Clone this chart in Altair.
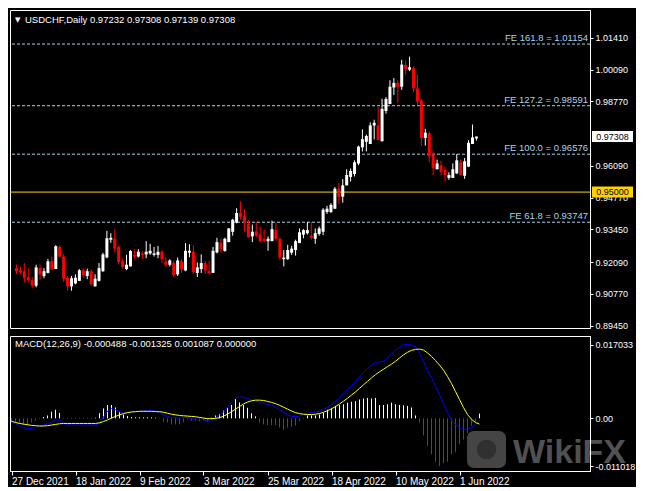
import altair as alt
import pandas as pd

# ---------------- data ----------------
symbol = "USDCHF"
timeframe = "Daily"

opens = [0.9184, 0.9175, 0.9171, 0.9147, 0.9135, 0.9111, 0.9184, 0.9151, 0.9164, 0.9212,
         0.9180, 0.9272, 0.9232, 0.9144, 0.9108, 0.9120, 0.9131, 0.9175, 0.9151, 0.9171,
         0.9108, 0.9131, 0.9171, 0.9228, 0.9302, 0.9306, 0.9272, 0.9214, 0.9180, 0.9191,
         0.9239, 0.9232, 0.9245, 0.9241, 0.9245, 0.9239, 0.9239, 0.9252, 0.9212, 0.9198,
         0.9205, 0.9158, 0.9212, 0.9174, 0.9248, 0.9252, 0.9164, 0.9180, 0.9205, 0.9171,
         0.9164, 0.9249, 0.9289, 0.9255, 0.9292, 0.9335, 0.9373, 0.9413, 0.9400, 0.9369,
         0.9316, 0.9336, 0.9324, 0.9306, 0.9296, 0.9296, 0.9342, 0.9306, 0.9221, 0.9221,
         0.9248, 0.9259, 0.9288, 0.9323, 0.9329, 0.9319, 0.9306, 0.9326, 0.9335, 0.9417,
         0.9417, 0.9431, 0.9514, 0.9481, 0.9528, 0.9563, 0.9575, 0.9619, 0.9686, 0.9709,
         0.9700, 0.9777, 0.9777, 0.9712, 0.9837, 0.9866, 0.9935, 0.9954, 0.9938, 1.0028,
         1.0009, 1.0015, 0.9931, 0.9881, 0.9725, 0.9745, 0.9656, 0.9595, 0.9611, 0.9592,
         0.9559, 0.9559, 0.9578, 0.9624, 0.9568, 0.9606, 0.9700, 0.97232]
highs = [0.9199, 0.9191, 0.9205, 0.9184, 0.9147, 0.9198, 0.9198, 0.9184, 0.9222, 0.9232,
         0.9279, 0.9279, 0.9243, 0.9151, 0.9151, 0.9158, 0.9180, 0.9184, 0.9182, 0.9178,
         0.9158, 0.9205, 0.9248, 0.9339, 0.9329, 0.9346, 0.9279, 0.9225, 0.9239, 0.9259,
         0.9263, 0.9263, 0.9255, 0.9296, 0.9285, 0.9272, 0.9276, 0.9259, 0.9232, 0.9221,
         0.9214, 0.9228, 0.9221, 0.9288, 0.9283, 0.9279, 0.9208, 0.9241, 0.9214, 0.9214,
         0.9272, 0.9310, 0.9306, 0.9310, 0.9350, 0.9389, 0.9433, 0.9461, 0.9429, 0.9384,
         0.9365, 0.9376, 0.9357, 0.9344, 0.9316, 0.9381, 0.9373, 0.9312, 0.9259, 0.9281,
         0.9276, 0.9302, 0.9349, 0.9346, 0.9376, 0.9376, 0.9349, 0.9357, 0.9433, 0.9443,
         0.9454, 0.9521, 0.9538, 0.9554, 0.9595, 0.9598, 0.9632, 0.9693, 0.9761, 0.9739,
         0.9790, 0.9801, 0.9853, 0.9888, 0.9895, 0.9965, 0.9974, 0.9965, 1.0050, 1.0046,
         1.0063, 1.0023, 0.9988, 0.9888, 0.9763, 0.9752, 0.9672, 0.9635, 0.9631, 0.9606,
         0.9582, 0.9619, 0.9658, 0.9635, 0.9642, 0.9716, 0.9781, 0.97308]
lows = [0.9159, 0.9158, 0.9124, 0.9124, 0.9100, 0.9104, 0.9135, 0.9142, 0.9162, 0.9178,
        0.9180, 0.9229, 0.9127, 0.9090, 0.9090, 0.9117, 0.9130, 0.9144, 0.9138, 0.9111,
        0.9108, 0.9128, 0.9168, 0.9225, 0.9289, 0.9249, 0.9201, 0.9182, 0.9175, 0.9191,
        0.9222, 0.9228, 0.9222, 0.9225, 0.9239, 0.9232, 0.9225, 0.9205, 0.9187, 0.9191,
        0.9147, 0.9151, 0.9164, 0.9171, 0.9229, 0.9160, 0.9147, 0.9164, 0.9160, 0.9158,
        0.9164, 0.9245, 0.9249, 0.9252, 0.9292, 0.9319, 0.9370, 0.9386, 0.9335, 0.9312,
        0.9292, 0.9312, 0.9292, 0.9292, 0.9256, 0.9296, 0.9296, 0.9216, 0.9191, 0.9218,
        0.9239, 0.9236, 0.9288, 0.9308, 0.9323, 0.9302, 0.9285, 0.9319, 0.9321, 0.9409,
        0.9413, 0.9429, 0.9451, 0.9456, 0.9528, 0.9544, 0.9565, 0.9612, 0.9669, 0.9669,
        0.9700, 0.9719, 0.9716, 0.9709, 0.9826, 0.9866, 0.9904, 0.9871, 0.9925, 0.9988,
        1.0003, 0.9915, 0.9860, 0.9692, 0.9693, 0.9624, 0.9571, 0.9595, 0.9571, 0.9544,
        0.9551, 0.9559, 0.9575, 0.9571, 0.9555, 0.9604, 0.9700, 0.97139]
closes = [0.9171, 0.9167, 0.9144, 0.9134, 0.9111, 0.9187, 0.9158, 0.9171, 0.9212, 0.9180,
          0.9275, 0.9232, 0.9140, 0.9108, 0.9142, 0.9144, 0.9175, 0.9155, 0.9171, 0.9117,
          0.9140, 0.9184, 0.9241, 0.9308, 0.9310, 0.9265, 0.9209, 0.9188, 0.9198, 0.9255,
          0.9232, 0.9252, 0.9239, 0.9252, 0.9256, 0.9245, 0.9252, 0.9222, 0.9198, 0.9216,
          0.9155, 0.9216, 0.9180, 0.9256, 0.9256, 0.9167, 0.9187, 0.9205, 0.9174, 0.9162,
          0.9256, 0.9292, 0.9263, 0.9306, 0.9349, 0.9385, 0.9413, 0.9397, 0.9370, 0.9312,
          0.9335, 0.9319, 0.9296, 0.9296, 0.9306, 0.9346, 0.9306, 0.9228, 0.9228, 0.9259,
          0.9265, 0.9296, 0.9333, 0.9342, 0.9342, 0.9310, 0.9329, 0.9349, 0.9427, 0.9431,
          0.9447, 0.9514, 0.9480, 0.9528, 0.9571, 0.9588, 0.9624, 0.9689, 0.9720, 0.9733,
          0.9777, 0.9788, 0.9716, 0.9846, 0.9887, 0.9938, 0.9954, 0.9938, 1.0030, 1.0012,
          1.0019, 0.9931, 0.9877, 0.9725, 0.9747, 0.9649, 0.9599, 0.9619, 0.9584, 0.9571,
          0.9571, 0.9595, 0.9632, 0.9571, 0.9628, 0.9705, 0.9727, 0.97308]

macd_main = [-0.000957, -0.001252, -0.001693, -0.002135, -0.002430, -0.002356, -0.002135, -0.001841, -0.001546, -0.001252,
             -0.000884, -0.000295, -0.000442, -0.001104, -0.001473, -0.001546, -0.001546, -0.001546, -0.001546, -0.001546,
             -0.001546, -0.001546, -0.001104, 0.000295, 0.001693, 0.002283, 0.001988, 0.001473, 0.001178, 0.001252,
             0.001399, 0.001546, 0.001620, 0.001693, 0.001841, 0.001841, 0.001693, 0.001399, 0.000810, 0.000442,
             0.000221, 0.000147, 0.000074, 0.000221, 0.000147, -0.000074, -0.000147, -0.000221, -0.000368, -0.000589,
             -0.000295, 0.000221, 0.000810, 0.001399, 0.002503, 0.003608, 0.004639, 0.004933, 0.004860, 0.004565,
             0.004271, 0.003976, 0.003755, 0.003387, 0.003240, 0.003019, 0.002577, 0.001988, 0.001399, 0.000810,
             0.000442, 0.000368, 0.000589, 0.000884, 0.001178, 0.001325, 0.001473, 0.001693, 0.002135, 0.002577,
             0.003166, 0.003976, 0.004712, 0.005817, 0.006700, 0.007584, 0.008467, 0.009498, 0.010603, 0.011486,
             0.012296, 0.012885, 0.013033, 0.013180, 0.013916, 0.014873, 0.015757, 0.016419, 0.017009, 0.017033,
             0.016960, 0.016493, 0.015021, 0.013180, 0.010971, 0.009277, 0.007437, 0.005449, 0.003387, 0.001399,
             -0.000515, -0.001399, -0.002062, -0.002503, -0.002577, -0.002135, -0.001399, -0.000488]
macd_signal = [-0.000663, -0.000957, -0.001178, -0.001325, -0.001473, -0.001620, -0.001693, -0.001767, -0.001767, -0.001693,
               -0.001546, -0.001399, -0.001252, -0.001178, -0.001178, -0.001178, -0.001178, -0.001178, -0.001178, -0.001178,
               -0.001178, -0.001178, -0.001031, -0.000736, -0.000368, 0.000074, 0.000442, 0.000810, 0.001104, 0.001325,
               0.001473, 0.001546, 0.001620, 0.001620, 0.001620, 0.001620, 0.001546, 0.001546, 0.001399, 0.001178,
               0.000957, 0.000810, 0.000663, 0.000589, 0.000515, 0.000442, 0.000368, 0.000221, 0.000074, -0.000074,
               -0.000074, 0.000000, 0.000147, 0.000515, 0.000957, 0.001546, 0.002135, 0.002724, 0.003313, 0.003755,
               0.004050, 0.004197, 0.004197, 0.004123, 0.003902, 0.003682, 0.003387, 0.003019, 0.002577, 0.002135,
               0.001693, 0.001325, 0.001104, 0.000957, 0.000884, 0.000884, 0.000957, 0.001104, 0.001399, 0.001767,
               0.002209, 0.002724, 0.003313, 0.003976, 0.004639, 0.005375, 0.006111, 0.006921, 0.007731, 0.008541,
               0.009351, 0.010087, 0.010750, 0.011339, 0.011928, 0.012517, 0.013180, 0.013916, 0.014652, 0.015241,
               0.015683, 0.015904, 0.015977, 0.015757, 0.015094, 0.014284, 0.013327, 0.012296, 0.011118, 0.009646,
               0.008026, 0.006185, 0.004344, 0.002503, 0.000884, -0.000221, -0.000957, -0.001325]
macd_hist = [-0.000957, -0.000957, -0.001178, -0.001546, -0.001546, -0.000957, -0.000515, -0.000147, 0.000295, 0.000663,
             0.001546, 0.001988, 0.001252, -0.000147, -0.000147, -0.000147, -0.000147, -0.000147, -0.000147, -0.000147,
             -0.000147, 0.000147, 0.001178, 0.002283, 0.003093, 0.003093, 0.002503, 0.001546, 0.000884, 0.000515,
             0.000295, 0.000221, 0.000221, 0.000221, 0.000221, 0.000221, 0.000147, -0.000074, -0.000810, -0.000957,
             -0.001399, -0.001399, -0.001399, -0.000884, -0.000221, -0.000515, -0.000515, -0.000663, -0.000515, -0.000736,
             0.000147, 0.000663, 0.001031, 0.001767, 0.002503, 0.003093, 0.004418, 0.003682, 0.003093, 0.002430,
             0.001178, 0.000442, -0.000957, -0.001399, -0.001546, -0.001546, -0.001546, -0.002135, -0.002651, -0.002135,
             -0.001914, -0.001693, -0.000663, -0.000147, 0.000663, 0.000663, 0.000663, 0.000884, 0.001252, 0.001988,
             0.002283, 0.002872, 0.003093, 0.003240, 0.003608, 0.003829, 0.003976, 0.004344, 0.004565, 0.004712,
             0.004565, 0.004712, 0.003093, 0.003093, 0.003240, 0.003608, 0.003240, 0.003093, 0.003019, 0.002872,
             0.002503, 0.000663, -0.000957, -0.003902, -0.006332, -0.008320, -0.010014, -0.011018, -0.010382, -0.010014,
             -0.008320, -0.007805, -0.005964, -0.004860, -0.003387, -0.001693, -0.000810, 0.001087]
macd_hist_down_last = 0.0

tick_pos = [0, 16, 32, 48, 64, 80, 96, 112]
tick_labels = ["27 Dec 2021", "18 Jan 2022", "9 Feb 2022", "3 Mar 2022",
               "25 Mar 2022", "18 Apr 2022", "10 May 2022", "1 Jun 2022"]

price_ticks = [0.89450, 0.90770, 0.92090, 0.93450, 0.94770, 0.96090,
               0.98770, 1.00090, 1.01410]
macd_ticks = [0.017033, 0.0, -0.011018]
macd_tick_labels = ["0.017033", "0.00", "-0.011018"]

fe_levels = [1.01154, 0.98591, 0.96576, 0.93747]
fe_labels = ["FE 161.8 = 1.01154", "FE 127.2 = 0.98591",
             "FE 100.0 = 0.96576", "FE 61.8 = 0.93747"]
support_level = 0.95000
last_price = closes[-1]

# ---------------- styling ----------------
W = 580
H_PRICE = 318
H_MACD = 135
BAR_PX = 4
FONT = "Liberation Sans"
GOLD = "#FFD200"
FE_COLOR = "#A9D3EA"

n = len(closes)
bar_index = list(range(n))

candles = pd.DataFrame({"i": bar_index, "open": opens, "high": highs,
                        "low": lows, "close": closes})
candles["dir"] = ["up" if c >= o else "down" for o, c in zip(opens, closes)]

x0 = -0.375
x_scale = alt.Scale(domain=[x0, x0 + W / BAR_PX], nice=False, zero=False)
p_scale = alt.Scale(domain=[0.8935, 1.0257], nice=False, zero=False)
m_scale = alt.Scale(domain=[-0.01215, 0.0190], nice=False, zero=False)
dir_color = alt.Color("dir:N", scale=alt.Scale(domain=["up", "down"],
                                               range=["#FFFFFF", "#FF0000"]), legend=None)

p_axis = alt.Axis(orient="right", values=price_ticks, format=".5f", title=None, grid=False,
                  labelColor="white", labelFont=FONT, labelFontSize=9, tickColor="white",
                  tickSize=3, labelPadding=2, domainColor="white", labelOverlap=False,
                  labelFlush=False)

m_label_expr = "".join(
    f"abs(datum.value - ({v})) < 0.0000001 ? '{l}' : " for v, l in zip(macd_ticks, macd_tick_labels)
) + "''"
m_axis = alt.Axis(orient="right", values=macd_ticks, labelExpr=m_label_expr, title=None,
                  grid=False, labelColor="white", labelFont=FONT, labelFontSize=9,
                  tickColor="white", tickSize=3, labelPadding=2, domainColor="white",
                  labelOverlap=False, labelFlush=False, zindex=1)

x_label_expr = "".join(
    f"datum.value == {p} ? '{l}' : " for p, l in zip(tick_pos, tick_labels)
) + "''"
x_axis = alt.Axis(values=tick_pos, labelExpr=x_label_expr, title=None, grid=False,
                  labelColor="white", labelFont=FONT, labelFontSize=10, labelAlign="left",
                  labelBaseline="top", labelPadding=1, tickSize=4, tickColor="white",
                  domainColor="white", labelFlush=False, labelOverlap=False, zindex=1)

# ---------------- price panel ----------------
fe_df = pd.DataFrame({"level": fe_levels, "label": fe_labels})
fe_lines = alt.Chart(fe_df).mark_rule(color=FE_COLOR, strokeDash=[3, 2], strokeWidth=1).encode(
    y=alt.Y("level:Q", scale=p_scale, axis=p_axis))
fe_text = alt.Chart(fe_df).mark_text(align="right", baseline="alphabetic", dy=-3,
                                     color=FE_COLOR, font=FONT, fontSize=9.5).encode(
    y=alt.Y("level:Q", scale=p_scale, axis=p_axis), x=alt.value(W - 2), text="label:N")

gold_line = alt.Chart(pd.DataFrame({"level": [support_level]})).mark_rule(
    color=GOLD, strokeWidth=1).encode(y=alt.Y("level:Q", scale=p_scale, axis=p_axis))

wicks = alt.Chart(candles).mark_rule(strokeWidth=1).encode(
    x=alt.X("i:Q", scale=x_scale, axis=None),
    y=alt.Y("low:Q", scale=p_scale, axis=p_axis),
    y2="high:Q",
    color=dir_color)
bodies = alt.Chart(candles).transform_calculate(
    lo="min(datum.open, datum.close)", hi="max(datum.open, datum.close)"
).mark_bar(size=3).encode(
    x=alt.X("i:Q", scale=x_scale, axis=None),
    y=alt.Y("lo:Q", scale=p_scale, axis=p_axis),
    y2="hi:Q",
    color=dir_color)

tags = pd.DataFrame({"price": [last_price, support_level],
                     "label": [f"{last_price:.5f}", f"{support_level:.5f}"],
                     "bg": ["#FFFFFF", GOLD]})
tag_box = alt.Chart(tags).transform_calculate(
    top="datum.price + 0.0023", bot="datum.price - 0.0023"
).mark_rect().encode(
    x=alt.value(W + 2), x2=alt.value(W + 43),
    y=alt.Y("top:Q", scale=p_scale, axis=p_axis), y2="bot:Q",
    fill=alt.Fill("bg:N", scale=None))
tag_text = alt.Chart(tags).mark_text(color="black", font=FONT, fontSize=9,
                                     align="center", baseline="middle").encode(
    x=alt.value(W + 22.5), y=alt.Y("price:Q", scale=p_scale, axis=p_axis), text="label:N")

title_str = f"{symbol},{timeframe}  " + " ".join(
    f"{v:.5f}" for v in [opens[-1], highs[-1], lows[-1], closes[-1]])
title_tri = alt.Chart(pd.DataFrame({"t": ["\u25BC"]})).mark_text(
    color="white", font="DejaVu Sans", fontSize=7, align="left", baseline="middle").encode(
    x=alt.value(5), y=alt.value(9.5), text="t:N")
title_txt = alt.Chart(pd.DataFrame({"t": [title_str]})).mark_text(
    color="white", font=FONT, fontSize=9.5, align="left", baseline="middle").encode(
    x=alt.value(15), y=alt.value(9.5), text="t:N")

price = alt.layer(fe_lines, gold_line, wicks, bodies, fe_text, tag_box, tag_text,
                  title_tri, title_txt).properties(width=W, height=H_PRICE)

# ---------------- MACD panel ----------------
macd_df = pd.DataFrame({"i": bar_index, "macd": macd_main,
                        "signal": macd_signal, "hist": macd_hist})
macd_df["hdir"] = ["up" if h >= 0 else "down" for h in macd_hist]

hist = alt.Chart(macd_df).transform_calculate(zero="0").mark_rule(strokeWidth=1).encode(
    x=alt.X("i:Q", scale=x_scale, axis=x_axis),
    y=alt.Y("hist:Q", scale=m_scale, axis=m_axis),
    y2="zero:Q",
    color=alt.Color("hdir:N", scale=alt.Scale(domain=["up", "down"],
                                              range=["#FFFFFF", "#FF0000"]), legend=None))
blue = alt.Chart(macd_df).mark_line(color="#0000FF", strokeWidth=1).encode(
    x=alt.X("i:Q", scale=x_scale, axis=x_axis),
    y=alt.Y("macd:Q", scale=m_scale, axis=m_axis))
yellow = alt.Chart(macd_df).mark_line(color="#FFFF00", strokeWidth=1).encode(
    x=alt.X("i:Q", scale=x_scale, axis=x_axis),
    y=alt.Y("signal:Q", scale=m_scale, axis=m_axis))

macd_title_str = "MACD(12,26,9) " + " ".join(
    f"{v:.6f}" for v in [macd_main[-1], macd_signal[-1], macd_hist[-1], macd_hist_down_last])
macd_title = alt.Chart(pd.DataFrame({"t": [macd_title_str]})).mark_text(
    color="white", font=FONT, fontSize=9.5, align="left", baseline="middle").encode(
    x=alt.value(5), y=alt.value(8), text="t:N")

wm_box = alt.Chart(pd.DataFrame({"a": [0]})).mark_rect(
    color="#4d4d4d", cornerRadius=7, opacity=0.9).encode(
    x=alt.value(457), x2=alt.value(496), y=alt.value(95), y2=alt.value(132))
wm_inner = alt.Chart(pd.DataFrame({"a": [0]})).mark_point(
    shape="circle", filled=True, color="#2e2e2e", size=380, opacity=0.9).encode(
    x=alt.value(476.5), y=alt.value(113.5))
wm_text = alt.Chart(pd.DataFrame({"t": ["WikiFX"]})).mark_text(
    color="#5a5a5a", font=FONT, fontSize=34, fontWeight="bold", align="left",
    baseline="middle", opacity=0.9).encode(
    x=alt.value(503), y=alt.value(117), text="t:N")

macd = alt.layer(hist, blue, yellow, wm_box, wm_inner, wm_text, macd_title).properties(
    width=W, height=H_MACD)

chart = alt.vconcat(price, macd, spacing=3).resolve_scale(
    x="independent", y="independent", color="independent"
).properties(
    background="#000000",
    padding={"left": 1, "top": 1, "right": 0, "bottom": 0}
).configure_view(stroke="#FFFFFF", strokeWidth=1)

chart.save("out.html", embed_options={"renderer": "svg", "actions": False})
